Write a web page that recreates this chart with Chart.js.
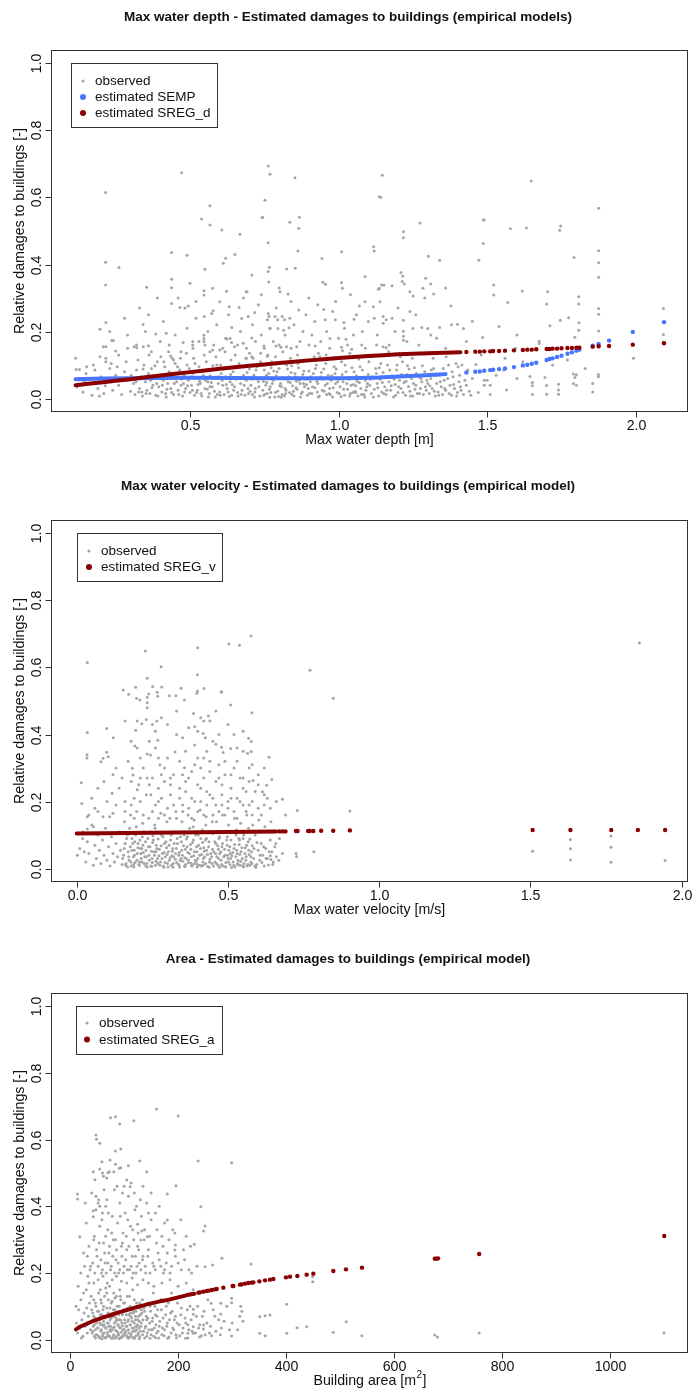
<!DOCTYPE html>
<html><head><meta charset="utf-8">
<script src="https://cdn.jsdelivr.net/npm/chart.js@4/dist/chart.umd.min.js"></script>
<style>
html,body{margin:0;padding:0;background:#fff;}
#wrap{position:relative;width:692px;height:1390px;overflow:hidden;}
canvas{position:absolute;left:0;}
</style></head><body>
<div id="wrap">
<canvas id="c1" width="692" height="465" style="top:0;width:692px;height:465px"></canvas>
<canvas id="c2" width="692" height="470" style="top:465px;width:692px;height:470px"></canvas>
<canvas id="c3" width="692" height="455" style="top:935px;width:692px;height:455px"></canvas>
</div>
<script>
// ---------------- DATA ----------------
const damageTicks = [0, 0.2, 0.4, 0.6, 0.8, 1.0];
const depthTicks = [0.5, 1.0, 1.5, 2.0];
const velocityTicks = [0, 0.5, 1.0, 1.5, 2.0];
const areaTicks = [0, 200, 400, 600, 800, 1000];

// Panel 1: max water depth [m] vs relative damage
const depthObserved = [
[.763,.694],[.472,.674],[.769,.669],[.853,.659],[.216,.615],[.567,.575],[.752,.592],[.539,.536],[.567,.518],[.607,.503],[.668,.49],[.742,.54],[.745,.54],[.836,.526],[.868,.541],[.866,.508],[1.137,.602],[1.147,.666],[1.142,.601],[1.648,.649],[1.875,.568],[1.218,.498],[1.218,.48],[1.274,.524],[1.487,.533],[1.49,.533],[1.578,.507],[1.632,.509],[1.747,.515],[1.744,.502],
[.216,.407],[.261,.391],[.216,.339],[.438,.436],[.49,.428],[.651,.43],[.62,.419],[.612,.404],[.763,.465],[.863,.44],[.854,.389],[.767,.392],[.763,.379],[.825,.387],[.708,.369],[.55,.386],[1.01,.438],[.944,.418],[1.089,.364],[1.118,.453],[1.12,.44],[.354,.332],[.438,.356],[.438,.331],[.5,.344],[.547,.322],[.547,.309],[.576,.329],[.623,.32],[.689,.319],[.692,.319],[.765,.348],[.8,.33],[.803,.319],[.83,.312],[.947,.347],[.956,.341],[1.01,.346],[1.013,.329],
[1.302,.425],[1.34,.413],[1.487,.463],[1.472,.413],[1.792,.421],[1.875,.441],[1.875,.405],[1.875,.362],[1.21,.376],[1.216,.366],[1.214,.349],[1.221,.342],[1.293,.359],[1.31,.342],[1.145,.339],[1.153,.339],[1.18,.337],[1.134,.326],[1.24,.319],[1.251,.306],[1.284,.329],[1.32,.312],[1.522,.339],[1.522,.309],[1.618,.321],[1.703,.319],[1.808,.304],[2.093,.269],
[.6,.289],[.438,.284],[.466,.272],[.483,.27],[.494,.276],[.548,.245],[.578,.262],[.573,.254],[.632,.274],[.665,.272],[.674,.239],[.696,.245],[.718,.257],[.763,.254],[.766,.245],[.76,.235],[.786,.245],[.795,.235],[.81,.245],[.818,.235],[.836,.24],[.768,.209],[.796,.209],[.815,.204],[.833,.211],[.866,.264],[.95,.266],[.955,.235],[.989,.235],[1.018,.227],[1.052,.237],[1.07,.276],[1.089,.289],[1.117,.274],[1.137,.329],[1.139,.289],[.641,.212],[.624,.178],[.197,.207],[.217,.227],[.208,.155],[.217,.155],[.237,.173],[.242,.173],[.197,.125],[.217,.12],[.217,.11],[.25,.142],[.115,.12],[.152,.095],[.117,.087],[.128,.087],[.312,.155],[.321,.152],[.343,.155],[.36,.158],[.342,.221],[.385,.193],[.42,.195],[.435,.127],[.44,.12],[.445,.115],[.477,.167],[.509,.17],[.509,.16],[.547,.189],[.547,.179],[.547,.17],[.55,.16],[.567,.14],[.576,.145],[.6,.145],[.635,.179],[.64,.167],[.65,.155],[.679,.165],[.708,.181],[.7,.135],[.708,.125],[.69,.12],[.749,.157],[.76,.126],[.789,.157],[.806,.153],[.825,.155],[.859,.155],[.921,.157],[.932,.135],[.937,.125],[.971,.179],[1.01,.153],[1.013,.143],[1.025,.177],[1.044,.147],[1.078,.16],[1.111,.125],[1.128,.16],
[1.378,.276],[1.569,.287],[1.7,.282],[1.808,.282],[1.746,.234],[1.774,.241],[1.809,.226],[1.808,.204],[1.875,.269],[1.875,.252],[1.875,.202],[1.711,.217],[1.795,.183],[1.675,.171],[1.675,.164],[1.12,.24],[1.15,.245],[1.16,.235],[1.18,.24],[1.15,.225],[1.218,.234],[1.218,.201],[1.218,.186],[1.218,.174],[1.25,.209],[1.28,.212],[1.3,.209],[1.34,.212],[1.4,.222],[1.42,.209],[1.45,.231],[1.485,.182],[1.31,.19],[1.15,.155],[1.16,.152],[1.17,.16],[1.54,.215],[1.6,.19],[2.093,.191],[2.093,.168],[1.992,.12],
[.12,.035],[.13,.06],[.14,.02],[.15,.075],[.16,.045],[.17,.01],[.18,.085],[.19,.03],[.2,.065],[.21,.015],[.22,.05],[.23,.09],[.24,.025],[.25,.07],[.26,.04],[.27,.012],[.28,.08],[.29,.055],[.3,.022],[.175,.1],[.235,.105],[.285,.11],[.195,.008],[.255,.095],[.145,.052],[.215,.038],
[.31,.045],[.315,.012],[.32,.085],[.33,.03],[.335,.065],[.34,.008],[.345,.1],[.35,.05],[.355,.025],[.36,.075],[.365,.015],[.37,.09],[.375,.04],[.38,.06],[.385,.01],[.39,.11],[.395,.035],[.4,.07],[.405,.02],[.41,.055],[.415,.095],[.42,.005],[.425,.045],[.43,.08],[.435,.03],[.44,.065],[.445,.012],[.45,.105],[.455,.05],[.46,.025],[.465,.085],[.47,.04],[.475,.008],[.48,.07],[.485,.03],[.49,.1],[.495,.055],[.5,.018],[.325,.115],[.362,.13],[.402,.125],[.428,.14],[.468,.12],[.488,.135],[.338,.02],[.388,.045],[.418,.015],[.452,.075],[.478,.045],[.498,.09],
[.505,.04],[.51,.075],[.515,.01],[.52,.06],[.525,.025],[.53,.095],[.535,.045],[.54,.008],[.545,.07],[.55,.03],[.555,.11],[.56,.05],[.565,.015],[.57,.085],[.575,.035],[.58,.06],[.585,.005],[.59,.1],[.595,.045],[.6,.02],[.605,.075],[.61,.04],[.615,.012],[.62,.065],[.625,.03],[.63,.09],[.635,.05],[.64,.01],[.645,.08],[.65,.035],[.655,.058],[.66,.018],[.665,.105],[.67,.045],[.675,.025],[.68,.07],[.685,.01],[.69,.055],[.695,.03],[.7,.088],[.512,.12],[.548,.13],[.587,.125],[.618,.14],[.652,.13],[.688,.12],[.522,.018],[.558,.028],[.592,.012],[.628,.02],[.662,.008],[.697,.015],[.532,.052],[.572,.048],[.608,.055],[.642,.042],[.678,.062],[.603,.1],[.568,.068],[.638,.115],
[.705,.04],[.71,.012],[.715,.07],[.72,.03],[.725,.095],[.73,.05],[.735,.008],[.74,.062],[.745,.025],[.75,.085],[.755,.04],[.76,.015],[.765,.075],[.77,.035],[.775,.11],[.78,.055],[.785,.005],[.79,.068],[.795,.022],[.8,.09],[.805,.045],[.81,.012],[.815,.06],[.82,.03],[.825,.1],[.83,.05],[.835,.018],[.84,.078],[.845,.038],[.85,.008],[.855,.065],[.86,.028],[.865,.092],[.87,.045],[.875,.015],[.88,.072],[.885,.035],[.89,.058],[.895,.01],[.9,.082],[.712,.12],[.738,.135],[.762,.13],[.788,.125],[.812,.14],[.838,.12],[.862,.13],[.888,.115],[.718,.02],[.748,.01],[.772,.018],[.798,.006],[.822,.015],[.848,.022],[.872,.005],[.898,.03],[.728,.058],[.758,.048],[.782,.082],[.808,.035],[.832,.065],[.858,.052],[.882,.045],[.742,.1],[.792,.105],[.842,.098],[.768,.004],[.818,.008],
[.905,.05],[.91,.015],[.915,.075],[.92,.032],[.925,.1],[.93,.045],[.935,.008],[.94,.065],[.945,.025],[.95,.088],[.955,.04],[.96,.012],[.965,.07],[.97,.03],[.975,.055],[.98,.005],[.985,.095],[.99,.045],[.995,.018],[1.0,.062],[1.005,.035],[1.01,.11],[1.015,.05],[1.02,.01],[1.025,.08],[1.03,.028],[1.035,.058],[1.04,.015],[1.045,.092],[1.05,.042],[1.055,.022],[1.06,.068],[1.065,.008],[1.07,.048],[1.075,.03],[1.08,.085],[1.085,.012],[1.09,.055],[1.095,.035],[1.1,.072],[.918,.125],[.958,.13],[.998,.12],[1.038,.135],[1.068,.118],[1.092,.128],[.928,.02],[.968,.015],[1.008,.006],[1.048,.018],[1.088,.005],[.948,.058],[.988,.075],[1.028,.045],[1.058,.038],
[1.105,.04],[1.11,.015],[1.115,.065],[1.12,.028],[1.125,.09],[1.13,.045],[1.135,.008],[1.14,.058],[1.145,.02],[1.15,.078],[1.155,.035],[1.16,.012],[1.165,.1],[1.17,.05],[1.175,.025],[1.18,.068],[1.185,.005],[1.19,.042],[1.195,.085],[1.2,.018],[1.205,.055],[1.21,.03],[1.215,.11],[1.22,.048],[1.225,.01],[1.23,.072],[1.235,.036],[1.24,.022],[1.245,.06],[1.25,.008],[1.255,.092],[1.26,.04],[1.265,.015],[1.27,.065],[1.275,.03],[1.28,.05],[1.285,.012],[1.29,.08],[1.295,.025],[1.3,.045],[1.122,.13],[1.168,.14],[1.208,.125],[1.248,.12],[1.288,.132],[1.142,.105],[1.232,.098],
[1.305,.015],[1.31,.06],[1.315,.03],[1.32,.09],[1.325,.008],[1.33,.045],[1.335,.02],[1.34,.07],[1.345,.035],[1.35,.012],[1.355,.055],[1.36,.025],[1.37,.1],[1.375,.04],[1.38,.01],[1.385,.065],[1.39,.03],[1.395,.105],[1.4,.018],[1.405,.05],[1.41,.035],[1.415,.1],[1.42,.012],[1.43,.04],[1.44,.022],[1.45,.06],[1.318,.12],[1.362,.125],[1.402,.095],
[1.462,.102],[1.49,.055],[1.51,.04],[1.5,.055],[1.49,.04],[1.565,.026],[1.47,.018],[1.51,.012],[1.644,.066],[1.652,.048],[1.652,.038],[1.652,.012],[1.694,.063],[1.7,.039],[1.7,.013],[1.74,.043],[1.74,.026],[1.74,.013],[1.79,.045],[1.8,.04],[1.79,.073],[1.8,.071],[1.795,.063],[1.855,.045],[1.855,.02],[1.874,.072],[1.874,.065],[1.53,.07],[1.555,.085],[1.6,.06],[1.48,.13],[1.56,.12],[1.62,.11],[1.72,.1],[1.77,.115],[1.595,.15],[1.83,.09],
[.302,.07],[.318,.05],[.327,.02],[.342,.088],[.352,.015],[.367,.055],[.372,.032],[.382,.098],[.392,.008],[.398,.062],[.407,.04],[.412,.11],[.422,.028],[.432,.068],[.438,.018],[.447,.045],[.458,.095],[.462,.012],[.472,.058],[.482,.02],[.487,.078],[.492,.038],[.502,.065],[.508,.025],[.517,.105],[.527,.042],[.537,.015],[.542,.082],[.552,.055],[.562,.005],[.567,.035],[.577,.098],[.582,.022],[.597,.065],[.602,.01],[.612,.088],[.622,.042],[.632,.006],[.637,.072],[.647,.025],[.657,.095],[.667,.06],[.672,.012],[.682,.04],[.692,.078],[.702,.022],[.707,.058],[.717,.005],[.722,.085],[.732,.035],[.737,.11],[.747,.052],[.752,.012],[.757,.07],[.767,.028],[.773,.092],[.777,.045],[.787,.018],[.793,.08],[.802,.038],[.807,.004],[.813,.062],[.823,.025],[.828,.088],[.837,.048],[.843,.012],[.853,.075],[.857,.032],[.863,.105],[.868,.055],[.878,.02],[.883,.082],[.892,.042],[.902,.015],[.907,.065],[.912,.035],[.922,.09],[.927,.052],[.932,.005],[.942,.078],[.952,.022],[.957,.105],[.962,.045],[.972,.012],[.977,.068],[.982,.032],[.992,.088],[.997,.05],[1.002,.015],[1.012,.072],[1.017,.028],[1.022,.1],[1.032,.06],[1.037,.008],[1.042,.04],[1.052,.08],[1.057,.018],[1.062,.052],[1.072,.095],[1.077,.012],[1.082,.062],[1.092,.025],[1.097,.045],[1.102,.11],[1.107,.058],[1.117,.005],[1.127,.075],[1.132,.032],[1.137,.092],[1.147,.048],[1.152,.015],[1.157,.065],[1.162,.025],[1.172,.085],[1.177,.038],[1.187,.058],[1.192,.01],[1.197,.1],[1.202,.035],[1.212,.072],[1.217,.018],[1.227,.052],[1.237,.088],[1.242,.008],[1.252,.045],[1.257,.028],[1.262,.075],[1.272,.015],[1.277,.06],[1.282,.098],[1.292,.035],[1.297,.055],[1.307,.038],[1.312,.085],[1.322,.022],[1.327,.068],[1.337,.01],[1.342,.05],[1.352,.09],[1.357,.03],[1.367,.06],[1.372,.015],[1.382,.08],[1.387,.042],[1.397,.008],[1.407,.07],[1.412,.025],[1.425,.055],[1.435,.085],[1.445,.01],
[.32,.16],[.35,.2],[.37,.14],[.4,.17],[.41,.23],[.43,.16],[.45,.19],[.47,.14],[.49,.21],[.51,.15],[.52,.24],[.53,.17],[.56,.2],[.58,.16],[.59,.22],[.61,.15],[.62,.18],[.63,.25],[.66,.16],[.67,.2],[.69,.15],[.71,.22],[.72,.17],[.73,.28],[.74,.19],[.75,.15],[.77,.21],[.78,.17],[.79,.27],[.8,.16],[.82,.19],[.84,.15],[.85,.22],[.87,.17],[.88,.2],[.89,.25],[.9,.16],[.91,.19],[.92,.23],[.94,.17],[.96,.2],[.97,.15],[.98,.26],[1.0,.18],[1.02,.21],[1.03,.16],[1.05,.19],[1.06,.25],[1.08,.2],[1.09,.15],[1.1,.23],[1.13,.19],[1.19,.2],[1.23,.17],[1.26,.25],[1.27,.16],[1.33,.18],[1.36,.15],[1.38,.22],[1.43,.17],[.26,.13],[.29,.15],[.23,.2],[.28,.24],[.33,.27],[.36,.25],[.39,.3],[.46,.3],[.52,.29],[.68,.3],[.74,.31],[.84,.29],[.9,.3],[.93,.28],[.99,.29],[1.04,.31],[1.2,.27],[1.24,.26],[1.29,.3],[1.36,.33],[.29,.19]
];
const depthSempLine = [[.115,.058],[.3,.061],[.5,.062],[.8,.061],[1.0,.061],[1.105,.062],[1.2,.066],[1.28,.069],[1.36,.073]];
const depthSempDots = [[1.43,.078],[1.46,.08],[1.475,.081],[1.49,.083],[1.51,.085],[1.52,.086],[1.54,.088],[1.56,.09],[1.59,.094],[1.62,.099],[1.635,.101],[1.65,.104],[1.665,.107],[1.70,.115],[1.71,.118],[1.72,.12],[1.735,.124],[1.75,.128],[1.77,.134],[1.785,.138],[1.80,.143],[1.81,.146],[1.855,.158],[1.875,.163],[1.91,.173],[1.99,.199],[2.095,.228]];
const depthSregLine = [[.115,.040],[.2,.048],[.3,.058],[.4,.069],[.5,.079],[.6,.089],[.7,.098],[.8,.106],[.9,.114],[1.0,.121],[1.1,.127],[1.2,.132],[1.3,.135],[1.41,.138]];
const depthSregDots = [[1.43,.139],[1.46,.14],[1.475,.14],[1.49,.141],[1.51,.141],[1.52,.142],[1.54,.142],[1.56,.143],[1.59,.144],[1.62,.145],[1.635,.146],[1.65,.146],[1.665,.147],[1.70,.148],[1.71,.148],[1.72,.149],[1.735,.149],[1.75,.15],[1.77,.151],[1.785,.151],[1.80,.152],[1.81,.152],[1.855,.155],[1.875,.156],[1.91,.157],[1.99,.161],[2.095,.165]];

// Panel 2: max water velocity [m/s] vs relative damage
const velocityObserved = [
[.576,.694],[.503,.67],[.538,.666],[.4,.659],[.227,.649],[.035,.615],[.279,.602],[.399,.578],[.233,.568],[.771,.592],[1.86,.673],
[.195,.541],[.251,.543],[.281,.542],[.345,.538],[.399,.53],[.421,.537],[.478,.528],[.172,.52],[.238,.521],[.266,.526],[.328,.516],
[.154,.533],[.198,.508],[.209,.503],[.233,.511],[.233,.495],[.233,.48],[.268,.514],[.306,.516],[.356,.503],[.397,.523],[.479,.526],[.509,.488],[.579,.465],[.848,.508],[.386,.463],[.41,.45],[.42,.44],[.44,.44],[.435,.455],[.2,.44],[.215,.432],[.23,.445],[.25,.43],[.265,.44],[.099,.418],[.121,.39],[.035,.406],[.034,.34],[.034,.33],[.08,.319],[.087,.329],[.099,.347],[.104,.334],[.195,.413],[.192,.366],[.233,.342],[.244,.339],[.268,.383],[.325,.348],[.356,.301],[.39,.423],[.39,.369],[.418,.403],[.425,.39],[.46,.371],[.479,.362],[.484,.346],[.509,.358],[.568,.389],[.577,.379],[.565,.344],[.577,.349],[.636,.332],[.645,.266],[.628,.249],[.614,.229],[.583,.263],[.68,.207],[.729,.173],[.903,.172],[.015,.256],[.017,.194],[.002,.04],[.117,.225],[.15,.27],[.184,.299],[.186,.279],[.18,.26],[.205,.25],[.21,.27],[.2,.235],[.233,.27],[.24,.25],[.275,.31],[.28,.28],[.087,.155],[.109,.155],[.035,.155],[.055,.125],[.035,.118],[.02,.09],[.725,.045],[.727,.036],[.784,.05],[.64,.038],[.642,.027],[.634,.011],
[.16,.2],[.17,.32],[.19,.21],[.22,.3],[.245,.22],[.26,.36],[.27,.2],[.29,.26],[.3,.33],[.31,.22],[.32,.28],[.33,.4],[.34,.24],[.35,.19],[.36,.35],[.37,.27],[.38,.21],[.39,.31],[.4,.25],[.41,.2],[.42,.33],[.43,.23],[.44,.29],[.45,.21],[.46,.26],[.47,.31],[.48,.22],[.49,.28],[.5,.2],[.51,.24],[.52,.3],[.53,.21],[.54,.27],[.55,.19],[.56,.23],[.57,.3],[.58,.2],[.6,.25],[.62,.19],[.63,.21],[.12,.28],[.13,.19],[.14,.24],[.3,.43],[.33,.47],[.45,.38],[.28,.45],[.37,.42],[.5,.43],[.52,.4],[.55,.41],[.46,.47],[.27,.33],[.41,.3],[.35,.28],[.43,.35],[.48,.19],[.58,.31],[.6,.28],[.53,.36],[.24,.38],[.2,.36],[.16,.44],[.07,.24],[.05,.21],[.66,.2],[.69,.16],
[.01,.06],[.02,.11],[.03,.02],[.035,.08],[.04,.045],[.05,.13],[.055,.01],[.06,.07],[.065,.03],[.07,.1],[.075,.055],[.08,.015],[.085,.085],[.09,.04],[.095,.12],[.1,.025],[.105,.065],[.11,.008],[.115,.095],[.12,.045],[.125,.02],[.13,.075],[.135,.035],[.14,.11],[.145,.055],[.15,.012],[.04,.16],[.07,.17],[.12,.165],[.025,.05],
[.155,.04],[.16,.075],[.163,.015],[.167,.1],[.17,.05],[.173,.025],[.177,.065],[.18,.008],[.183,.09],[.187,.035],[.19,.055],[.193,.018],[.197,.125],[.2,.045],[.203,.075],[.207,.01],[.21,.06],[.213,.03],[.217,.095],[.22,.048],[.223,.015],[.227,.08],[.23,.035],[.233,.005],[.237,.065],[.24,.025],[.243,.11],[.247,.052],[.25,.018],[.253,.085],[.257,.04],[.26,.01],[.263,.07],[.267,.03],[.27,.15],[.273,.058],[.277,.02],[.28,.1],[.283,.045],[.287,.008],[.29,.075],[.293,.035],[.297,.062],[.3,.015],[.158,.14],[.178,.16],[.198,.17],[.218,.135],[.238,.15],[.258,.13],[.278,.165],[.298,.14],[.168,.005],[.188,.012],[.208,.02],[.228,.008],[.248,.006],[.268,.015],[.288,.004],[.215,.06],[.262,.05],[.252,.098],[.192,.08],
[.303,.05],[.306,.025],[.31,.085],[.313,.01],[.317,.06],[.32,.035],[.323,.11],[.327,.045],[.33,.018],[.333,.075],[.337,.04],[.34,.005],[.343,.095],[.347,.055],[.35,.022],[.353,.068],[.357,.032],[.36,.012],[.363,.088],[.367,.048],[.37,.026],[.373,.12],[.377,.058],[.38,.008],[.383,.078],[.387,.038],[.39,.015],[.393,.1],[.397,.05],[.4,.03],[.403,.07],[.407,.01],[.41,.09],[.413,.042],[.417,.02],[.42,.062],[.423,.035],[.427,.13],[.43,.055],[.433,.006],[.437,.08],[.44,.028],[.443,.045],[.447,.015],[.45,.105],[.308,.15],[.328,.17],[.348,.14],[.368,.16],[.388,.145],[.408,.175],[.428,.155],[.448,.14],[.318,.004],[.338,.012],[.358,.006],[.378,.016],[.398,.005],[.418,.01],[.438,.004],[.315,.038],[.345,.03],[.365,.065],[.395,.022],[.425,.085],[.355,.1],[.385,.125],[.415,.115],
[.453,.05],[.457,.02],[.46,.075],[.463,.035],[.467,.01],[.47,.09],[.473,.045],[.477,.025],[.48,.065],[.483,.008],[.487,.11],[.49,.04],[.493,.018],[.497,.07],[.5,.03],[.503,.055],[.507,.012],[.51,.085],[.513,.038],[.517,.02],[.52,.06],[.523,.005],[.527,.1],[.53,.045],[.533,.025],[.537,.072],[.54,.01],[.543,.05],[.547,.03],[.55,.09],[.553,.015],[.557,.062],[.56,.035],[.563,.008],[.567,.08],[.57,.042],[.575,.02],[.58,.068],[.585,.03],[.59,.1],[.595,.012],[.6,.055],[.605,.025],[.61,.075],[.615,.04],[.62,.008],[.625,.06],[.63,.03],[.64,.085],[.645,.05],[.65,.02],[.655,.065],[.66,.035],[.67,.09],[.68,.045],[.462,.14],[.482,.16],[.502,.13],[.522,.15],[.542,.135],[.562,.16],[.582,.13],[.602,.145],[.622,.125],[.642,.14],[.472,.004],[.492,.006],[.512,.003],[.532,.012],[.552,.005],[.572,.01],[.592,.004],[.468,.058],[.508,.045],[.538,.085],[.578,.05],[.498,.095],[.528,.115],[.568,.12],
[1.507,.052],[1.632,.087],[1.632,.059],[1.632,.026],[1.766,.097],[1.766,.064],[1.766,.019],[1.945,.024],
[.152,.03],[.157,.06],[.162,.01],[.165,.09],[.172,.035],[.175,.12],[.179,.02],[.182,.055],[.185,.075],[.189,.005],[.191,.04],[.195,.1],[.199,.025],[.202,.062],[.205,.012],[.209,.085],[.212,.045],[.216,.02],[.219,.07],[.222,.11],[.225,.035],[.229,.055],[.232,.015],[.235,.09],[.239,.04],[.242,.065],[.245,.008],[.249,.03],[.251,.078],[.255,.05],[.259,.12],[.262,.022],[.265,.06],[.269,.088],[.272,.038],[.275,.01],[.279,.068],[.282,.03],[.285,.095],[.289,.048],[.292,.018],[.295,.08],[.299,.042],[.302,.005],[.305,.07],[.309,.032],[.312,.1],[.316,.052],[.319,.015],[.322,.075],[.326,.028],[.329,.06],[.332,.09],[.336,.012],[.339,.048],[.342,.025],[.346,.08],[.349,.04],[.352,.11],[.356,.008],[.359,.058],[.362,.03],[.366,.095],[.369,.018],[.372,.045],[.376,.072],[.379,.035],[.382,.01],[.386,.085],[.389,.05],[.392,.025],[.396,.065],[.399,.012],[.402,.1],[.406,.04],[.409,.06],[.412,.008],[.416,.078],[.419,.03],[.422,.052],[.426,.015],[.429,.09],[.432,.042],[.436,.065],[.439,.02],[.442,.11],[.446,.035],[.449,.058],[.452,.008],[.456,.08],[.459,.045],[.462,.015],[.466,.068],[.469,.03],[.472,.095],[.476,.05],[.479,.012],[.482,.075],[.486,.035],[.489,.058],[.492,.005],[.496,.085],[.499,.04],[.502,.02],[.506,.065],[.509,.03],[.512,.11],[.516,.048],[.519,.01],[.522,.072],[.526,.035],[.529,.055],[.532,.015],[.536,.09],[.539,.042],[.542,.022],[.546,.062],[.549,.008],[.552,.1],[.556,.045],[.559,.025],[.562,.07],[.566,.012],[.569,.055],[.572,.088],[.576,.035],[.579,.015],[.586,.06],[.589,.008],[.596,.078],[.606,.04],[.612,.018],[.618,.065],[.626,.03],[.636,.05],[.648,.012],[.658,.075],[.668,.025],
[.16,.17],[.18,.19],[.19,.15],[.21,.2],[.22,.16],[.23,.22],[.25,.17],[.26,.19],[.28,.21],[.29,.16],[.3,.18],[.31,.25],[.32,.19],[.33,.15],[.34,.21],[.35,.17],[.36,.23],[.37,.18],[.38,.15],[.39,.2],[.4,.17],[.41,.24],[.42,.16],[.43,.19],[.44,.22],[.45,.16],[.46,.19],[.47,.17],[.48,.25],[.49,.16],[.5,.18],[.51,.21],[.52,.17],[.53,.15],[.54,.2],[.55,.24],[.56,.17],[.57,.19],[.58,.16],[.59,.23],[.6,.18],[.61,.16],[.62,.22],[.64,.18],[.25,.27],[.27,.24],[.29,.3],[.31,.27],[.34,.32],[.36,.26],[.38,.29],[.4,.33],[.42,.27],[.44,.32],[.47,.27],[.49,.32],[.51,.28],[.53,.32],[.55,.27],[.57,.26],[.21,.33],[.18,.38],[.26,.41],[.35,.39],[.4,.41],[.47,.4],[.55,.35],[.62,.3],[.1,.2],[.13,.3],[.09,.26],[.06,.18]
];
const velocitySregLine = [[0,.105],[.33,.108],[.66,.111]];
const velocitySregDots = [[.67,.111],[.68,.111],[.69,.111],[.725,.112],[.73,.112],[.765,.112],[.77,.112],[.782,.112],[.808,.113],[.848,.113],[.903,.114],[1.507,.115],[1.632,.115],[1.767,.115],[1.855,.115],[1.945,.115]];

// Panel 3: building area [m2] vs relative damage
const areaObserved = [
[160,.692],[200,.671],[75,.666],[84,.669],[92,.647],[118,.657],[48,.614],[49,.601],[55,.589],[84,.566],[94,.572],[59,.534],[74,.539],[84,.526],[94,.516],[108,.522],[129,.536],[43,.504],[55,.512],[70,.501],[73,.504],[81,.504],[91,.514],[142,.504],[237,.536],[299,.531],
[14,.437],[14,.422],[18,.309],[43,.387],[43,.369],[48,.39],[52,.41],[55,.4],[53,.42],[46,.48],[60,.5],[62,.49],[68,.485],[105,.479],[111,.459],[125,.346],[133,.326],[131,.299],[143,.309],[196,.462],[180,.437],[180,.359],[242,.399],[250,.341],[247,.326],[230,.286],[195,.284],[194,.269],[281,.244],[264,.224],[250,.219],[335,.227],[449,.189],[449,.174],[401,.106],[401,.019],[420,.036],[438,.039],[487,.022],[511,.054],[540,.012],[351,.019],[361,.012],[351,.069],[361,.072],[370,.074],[314,.07],[318,.085],[316,.1],[320,.055],[299,.124],[299,.111],[299,.011],[279,.077],[279,.109],[247,.044],[247,.032],[261,.109],[228,.076],[228,.091],[228,.039],[228,.019],[218,.019],[218,.005],
[675,.014],[680,.008],[757,.02],[1099,.021],
[30,.35],[35,.28],[38,.22],[40,.44],[45,.31],[50,.25],[55,.34],[58,.2],[60,.38],[62,.29],[65,.23],[68,.42],[70,.33],[72,.26],[75,.21],[78,.37],[80,.3],[82,.45],[85,.24],[88,.35],[90,.2],[92,.41],[95,.28],[98,.32],[100,.22],[102,.38],[105,.27],[108,.43],[110,.21],[112,.34],[115,.25],[118,.3],[120,.39],[122,.2],[125,.28],[128,.23],[130,.42],[135,.25],[138,.33],[140,.2],[145,.27],[150,.36],[155,.22],[160,.29],[165,.24],[170,.31],[175,.21],[180,.26],[185,.2],[190,.33],[200,.23],[210,.27],[220,.21],[25,.26],[28,.41],[33,.19],[150,.44],[165,.4],[87,.46],[63,.45],[97,.44],[113,.47],[135,.46],[158,.38],[205,.36],[215,.31],[175,.35],[142,.41],
[12,.05],[14,.02],[16,.09],[18,.035],[20,.12],[22,.06],[24,.01],[26,.08],[28,.04],[30,.15],[32,.02],[34,.07],[36,.11],[38,.03],[40,.055],[15,.16],[25,.14],[35,.17],[11,.1],[21,.005],[31,.095],[39,.13],
[41,.02],[42,.08],[43,.04],[44,.12],[45,.01],[46,.065],[47,.03],[48,.1],[49,.05],[50,.015],[51,.085],[52,.035],[53,.14],[54,.06],[55,.005],[56,.075],[57,.025],[58,.11],[59,.045],[60,.012],[61,.09],[62,.055],[63,.02],[64,.13],[65,.07],[66,.035],[67,.008],[68,.095],[69,.05],[70,.015],[71,.08],[72,.04],[73,.16],[74,.06],[75,.025],[76,.11],[77,.004],[78,.07],[79,.035],[80,.09],[81,.015],[82,.05],[83,.125],[84,.028],[85,.065],[86,.01],[87,.1],[88,.045],[89,.02],[90,.075],[91,.038],[92,.15],[93,.006],[94,.058],[95,.022],[96,.085],[97,.042],[98,.012],[99,.11],[100,.032],
[44,.17],[52,.18],[61,.19],[69,.17],[78,.18],[86,.19],[95,.175],[47,.005],[53,.01],[59,.003],[66,.006],[72,.01],[79,.004],[85,.006],[91,.003],[97,.008],[43,.06],[57,.045],[63,.04],[74,.03],[88,.06],[71,.12],[81,.14],[93,.13],[56,.15],[66,.155],
[101,.06],[102,.02],[103,.09],[104,.04],[105,.012],[106,.13],[107,.055],[108,.03],[109,.075],[110,.008],[111,.1],[112,.045],[113,.018],[114,.065],[115,.035],[116,.15],[117,.005],[118,.085],[119,.05],[120,.025],[121,.07],[122,.012],[123,.11],[124,.04],[125,.06],[126,.02],[127,.095],[128,.035],[129,.008],[130,.075],[132,.05],[134,.12],[136,.025],[138,.085],[140,.04],[142,.01],[144,.065],[146,.03],[148,.1],[150,.015],[152,.055],[154,.14],[156,.035],[158,.075],[160,.02],[105,.17],[115,.185],[125,.165],[135,.18],[145,.17],[155,.16],[108,.004],[118,.006],[128,.003],[138,.005],[148,.004],[158,.006],[112,.08],[122,.04],[132,.09],[142,.06],[152,.03],
[162,.09],[165,.04],[168,.12],[170,.015],[172,.065],[175,.03],[178,.1],[180,.05],[183,.008],[186,.08],[188,.14],[190,.035],[193,.06],[196,.015],[199,.11],[202,.045],[205,.075],[208,.02],[211,.13],[214,.05],[217,.09],[220,.03],[224,.06],[228,.15],[232,.02],[236,.1],[240,.045],[245,.07],[250,.015],[255,.12],[260,.04],[265,.09],[270,.025],[275,.06],[280,.035],[290,.1],[300,.05],[310,.03],[170,.17],[185,.18],[200,.16],[215,.17],[164,.005],[181,.004],[197,.006],[214,.004],[240,.008],[262,.012],
[40,.09],[42,.025],[44,.07],[45,.045],[47,.11],[48,.015],[50,.06],[51,.035],[53,.085],[54,.008],[55,.05],[57,.12],[58,.03],[59,.075],[61,.018],[62,.1],[63,.045],[64,.006],[65,.065],[67,.035],[68,.14],[69,.022],[70,.08],[71,.05],[73,.01],[74,.095],[75,.04],[76,.065],[77,.028],[78,.115],[80,.012],[81,.07],[82,.038],[83,.09],[84,.005],[85,.055],[86,.13],[87,.025],[88,.08],[89,.045],[90,.015],[91,.1],[92,.06],[93,.035],[94,.12],[95,.008],[96,.05],[97,.075],[98,.03],[99,.09],[100,.015],[101,.11],[102,.05],[103,.025],[104,.075],[105,.04],[106,.008],[107,.095],[108,.06],[109,.02],[110,.13],[111,.045],[112,.07],[113,.01],[114,.09],[115,.055],[116,.025],[117,.08],[118,.035],[119,.12],[120,.005],[121,.06],[122,.085],[123,.03],[124,.1],[125,.045],[126,.015],[127,.07],[128,.055],[129,.11],[130,.025],[131,.04],[133,.08],[134,.015],[135,.06],[137,.095],[139,.035],[141,.07],[143,.02],[145,.11],[147,.05],[149,.085],[151,.03],[153,.065],[155,.01],[157,.1],[159,.045],[161,.07],[163,.025],[166,.055],[169,.09],[171,.035],[174,.012],[177,.075],[179,.04],[182,.11],[184,.06],[187,.02],[189,.085],[192,.03],[195,.07],[198,.05],[203,.012],[206,.095],[209,.035],[213,.065],[218,.045],[222,.1],[226,.025],[234,.07],[238,.035],[243,.012],[248,.085],[253,.05],[258,.02],[268,.07],[278,.015],[285,.055],[295,.03],
[20,.2],[27,.22],[32,.25],[37,.21],[42,.23],[46,.2],[49,.27],[52,.22],[57,.24],[60,.21],[64,.26],[67,.2],[70,.23],[73,.28],[76,.22],[79,.25],[83,.2],[86,.27],[89,.23],[92,.21],[96,.25],[99,.2],[103,.24],[106,.21],[109,.28],[113,.22],[117,.2],[121,.25],[124,.22],[127,.27],[131,.21],[134,.24],[139,.22],[144,.25],[148,.2],[153,.23],[158,.21],[163,.26],[168,.22],[173,.2],[178,.23],[188,.22],[195,.25],[206,.21],[212,.24],[225,.2],[235,.22],[44,.3],[54,.29],[66,.31],[77,.32],[84,.3],[97,.29],[104,.31],[116,.33],[126,.32],[137,.3],[147,.31],[161,.33],[172,.28],[183,.3],[194,.32],[223,.28],[59,.36],[71,.38],[93,.37],[107,.36],[123,.4],[132,.37],[145,.38],[48,.43],[66,.4],[100,.46],[119,.44]
];
const areaSregLine = [[11,.031],[20,.040],[30,.047],[43,.056],[60,.066],[74,.073],[90,.082],[105,.089],[120,.096],[136,.103],[150,.109],[166,.115],[185,.121],[200,.127],[215,.133],[230,.138]];
const areaSregDots = [[237.5,.141],[240.6,.142],[246.7,.144],[252.9,.146],[256,.147],[262.2,.149],[268.3,.151],[271.4,.152],[283.7,.156],[300.9,.161],[302.2,.161],[314.5,.165],[317.6,.166],[323.7,.168],[329.9,.170],[336,.171],[339.2,.172],[350.3,.175],[360.8,.178],[370,.180],[376.2,.182],[399.6,.187],[407,.189],[420.6,.191],[437.8,.195],[450.2,.198],[487.2,.206],[510.6,.211],[540.2,.216],[675,.243],[678,.243],[681,.244],[757,.257],[1099.5,.311]];

// ---------------- STYLE / RENDER ----------------
const GRAY = '#a6a6a6', BLUE = '#4876FF', RED = '#8B0000', INK = '#111111';
const FONT = '"Liberation Sans", Arial, Helvetica, sans-serif';

const toPts = a => a.map(([x, y]) => ({x, y}));
const obsSet = d => ({label: 'observed', data: toPts(d), showLine: false, pointRadius: 1.5, pointHoverRadius: 1.5, pointBackgroundColor: GRAY, pointBorderWidth: 0, borderColor: GRAY, order: 3});
const lineSet = (d, c, o) => ({data: toPts(d), showLine: true, borderColor: c, borderWidth: 4, pointRadius: 0, pointHoverRadius: 0, tension: 0.2, borderCapStyle: 'round', order: o});
const dotSet = (d, c, o) => ({data: toPts(d), showLine: false, pointRadius: 2.2, pointHoverRadius: 2.2, pointBackgroundColor: c, pointBorderWidth: 0, borderColor: c, order: o});

const rFrame = {
  id: 'rframe',
  afterDraw(chart, args, o) {
    const {ctx, chartArea: a, scales: {x, y}} = chart;
    const L = Math.round(a.left) + 0.5, R = Math.round(a.right) - 0.5, T = Math.round(a.top) + 0.5, B = Math.round(a.bottom) - 0.5;
    ctx.save();
    ctx.strokeStyle = '#333'; ctx.lineWidth = 1;
    ctx.strokeRect(L, T, R - L, B - T);
    const xp = o.xTicks.map(v => Math.round(x.getPixelForValue(v)) + 0.5);
    ctx.beginPath();
    ctx.moveTo(xp[0], B); ctx.lineTo(xp[xp.length - 1], B);
    xp.forEach(p => { ctx.moveTo(p, B); ctx.lineTo(p, B + 6); });
    const yp = damageTicks.map(v => Math.round(y.getPixelForValue(v)) + 0.5);
    ctx.moveTo(L, yp[0]); ctx.lineTo(L, yp[yp.length - 1]);
    yp.forEach(p => { ctx.moveTo(L, p); ctx.lineTo(L - 6, p); });
    ctx.stroke();
    ctx.fillStyle = INK;
    ctx.font = '14.2px ' + FONT;
    ctx.textAlign = 'center'; ctx.textBaseline = 'middle';
    o.xTicks.forEach((v, i) => ctx.fillText(o.xFmt(v), xp[i], B + 14.5));
    damageTicks.forEach((v, i) => {
      ctx.save(); ctx.translate(L - 14.5, yp[i]); ctx.rotate(-Math.PI / 2);
      ctx.fillText(v.toFixed(1), 0, 0); ctx.restore();
    });
    ctx.save(); ctx.translate(L - 31, (T + B) / 2); ctx.rotate(-Math.PI / 2);
    ctx.fillText('Relative damages to buildings [-]', 0, 0); ctx.restore();
    const cx = (L + R) / 2;
    if (o.xSup) {
      const p1 = o.xTitle, p2 = o.xSup, p3 = o.xTail;
      ctx.font = '14.2px ' + FONT; const w1 = ctx.measureText(p1).width, w3 = ctx.measureText(p3).width;
      ctx.font = '10px ' + FONT; const w2 = ctx.measureText(p2).width;
      const sx = cx - (w1 + w2 + w3) / 2;
      ctx.textAlign = 'left';
      ctx.font = '14.2px ' + FONT; ctx.fillText(p1, sx, B + 28.5);
      ctx.font = '10px ' + FONT; ctx.fillText(p2, sx + w1 + 0.5, B + 23);
      ctx.font = '14.2px ' + FONT; ctx.fillText(p3, sx + w1 + w2 + 1, B + 28.5);
    } else {
      ctx.fillText(o.xTitle, cx, B + 28.5);
    }
    ctx.textAlign = 'center';
    ctx.font = 'bold 13.5px ' + FONT;
    ctx.fillText(o.title, o.titleX, o.titleY);
    const g = o.legend;
    ctx.fillStyle = '#fff';
    ctx.fillRect(g.x, g.y, g.w, g.h);
    ctx.strokeStyle = '#333';
    ctx.strokeRect(g.x + 0.5, g.y + 0.5, g.w, g.h);
    ctx.font = '13.5px ' + FONT; ctx.textAlign = 'left';
    g.rows.forEach((r, i) => {
      const ry = g.y + g.first + i * g.step;
      ctx.fillStyle = r.c;
      ctx.beginPath(); ctx.arc(g.x + g.sym, ry, r.r, 0, Math.PI * 2); ctx.fill();
      ctx.fillStyle = INK;
      ctx.fillText(r.t, g.x + g.txt, ry + 0.5);
    });
    ctx.restore();
  }
};

function makeChart(id, h, box, xmin, xmax, datasets, frame) {
  return new Chart(document.getElementById(id), {
    type: 'scatter',
    data: {datasets},
    options: {
      responsive: false, animation: false, devicePixelRatio: 1, events: [],
      layout: {padding: {left: box.l, right: 692 - box.r, top: box.t, bottom: h - box.b}},
      scales: {
        x: {type: 'linear', min: xmin, max: xmax, display: false},
        y: {type: 'linear', min: -0.04, max: 1.04, display: false}
      },
      plugins: {legend: {display: false}, tooltip: {enabled: false}, rframe: frame}
    },
    plugins: [rFrame]
  });
}

const obsRow = {t: 'observed', c: GRAY, r: 1.6};

makeChart('c1', 465, {l: 51, r: 687.5, t: 50, b: 412}, 0.0323, 2.174, [
  obsSet(depthObserved),
  lineSet(depthSempLine, BLUE, 2), dotSet(depthSempDots, BLUE, 2),
  lineSet(depthSregLine, RED, 1), dotSet(depthSregDots, RED, 1)
], {
  xTicks: depthTicks, xFmt: v => v.toFixed(1), xTitle: 'Max water depth [m]',
  title: 'Max water depth - Estimated damages to buildings (empirical models)', titleX: 348, titleY: 17,
  legend: {x: 71, y: 63, w: 146, h: 64, first: 18, step: 16, sym: 12, txt: 24,
    rows: [obsRow, {t: 'estimated SEMP', c: BLUE, r: 3}, {t: 'estimated SREG_d', c: RED, r: 3}]}
});

makeChart('c2', 470, {l: 51, r: 687.5, t: 55, b: 417}, -0.085, 2.019, [
  obsSet(velocityObserved),
  lineSet(velocitySregLine, RED, 1), dotSet(velocitySregDots, RED, 1)
], {
  xTicks: velocityTicks, xFmt: v => v.toFixed(1), xTitle: 'Max water velocity [m/s]',
  title: 'Max water velocity - Estimated damages to buildings (empirical model)', titleX: 348, titleY: 21,
  legend: {x: 77, y: 68, w: 145, h: 48, first: 18, step: 16, sym: 12, txt: 24,
    rows: [obsRow, {t: 'estimated SREG_v', c: RED, r: 3}]}
});

makeChart('c3', 455, {l: 51, r: 687.5, t: 58, b: 418}, -35.2, 1142.5, [
  obsSet(areaObserved),
  lineSet(areaSregLine, RED, 1), dotSet(areaSregDots, RED, 1)
], {
  xTicks: areaTicks, xFmt: v => String(v), xTitle: 'Building area [m', xSup: '2', xTail: ']',
  title: 'Area - Estimated damages to buildings (empirical model)', titleX: 348, titleY: 24,
  legend: {x: 76, y: 71, w: 146, h: 48, first: 17, step: 16.5, sym: 11, txt: 23,
    rows: [obsRow, {t: 'estimated SREG_a', c: RED, r: 3}]}
});
</script>
</body></html>
